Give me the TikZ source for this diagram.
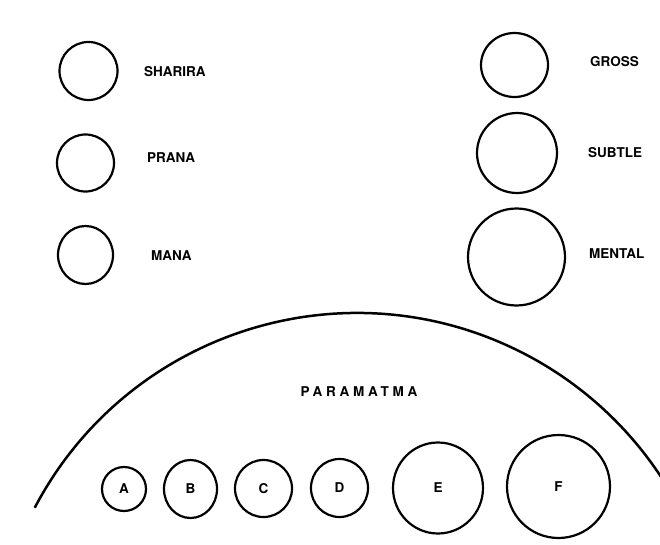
\documentclass[tikz,border=0pt]{standalone}
\usepackage{fontspec}
\setmainfont{TeX Gyre Heros}
\usetikzlibrary{shapes.geometric}
\begin{document}
\begin{tikzpicture}[x=1pt,y=1pt,
  ring/.style={circle,draw=black,line width=2.2pt,inner sep=0pt},
  oval/.style={ellipse,draw=black,line width=2.2pt,inner sep=0pt},
  lbl/.style={font=\fontsize{13.5}{13.5}\selectfont\bfseries,inner sep=0pt,anchor=west},
  letter/.style={font=\fontsize{13.5}{13.5}\selectfont\bfseries}]
\useasboundingbox (0,0) rectangle (660,-545);
\fill[white] (0,0) rectangle (660,-545);
\clip (0,0) rectangle (660,-545);
% left column
\node[ring,minimum size=58pt] (sharira) at (88.5,-71) {};
\node[ring,minimum size=57pt] (prana) at (85.5,-163) {};
\node[oval,minimum width=55pt,minimum height=58pt] (mana) at (85.5,-255) {};
\node[lbl] (lsharira) at (144,-72) {SHARIRA};
\node[lbl] (lprana) at (147,-158) {PRANA};
\node[lbl] (lmana) at (151,-256) {MANA};
% right column
\node[oval,minimum width=67pt,minimum height=64pt] (gross) at (514.5,-65) {};
\node[ring,minimum size=80pt] (subtle) at (517,-153) {};
\node[ring,minimum size=97pt] (mental) at (516.5,-257) {};
\node[lbl] (lgross) at (590,-62) {GROSS};
\node[lbl] (lsubtle) at (588,-153) {SUBTLE};
\node[lbl] (lmental) at (589,-254) {MENTAL};
% paramatma arc
\coordinate (arcstart) at (34.7,-507.8);
\draw[line width=2.5pt] (arcstart) arc[start angle=152.3,end angle=30,radius=364];
\node[font=\fontsize{13.5}{13.5}\selectfont\bfseries\addfontfeatures{LetterSpace=28}] (param) at (359,-392) {PARAMATMA};
% bottom circles
\node[ring,minimum size=44pt,letter] (a) at (124,-489) {A};
\node[oval,minimum width=53pt,minimum height=58pt,letter] (b) at (190.5,-489) {B};
\node[ring,minimum size=57pt,letter] (c) at (263.5,-488.5) {C};
\node[oval,minimum width=57pt,minimum height=58pt,letter] (d) at (339.5,-488) {D};
\node[oval,minimum width=90pt,minimum height=91pt,letter] (e) at (438,-488) {E};
\node[ring,minimum size=103pt,letter] (f) at (558.5,-486.5) {F};
\end{tikzpicture}
\end{document}
